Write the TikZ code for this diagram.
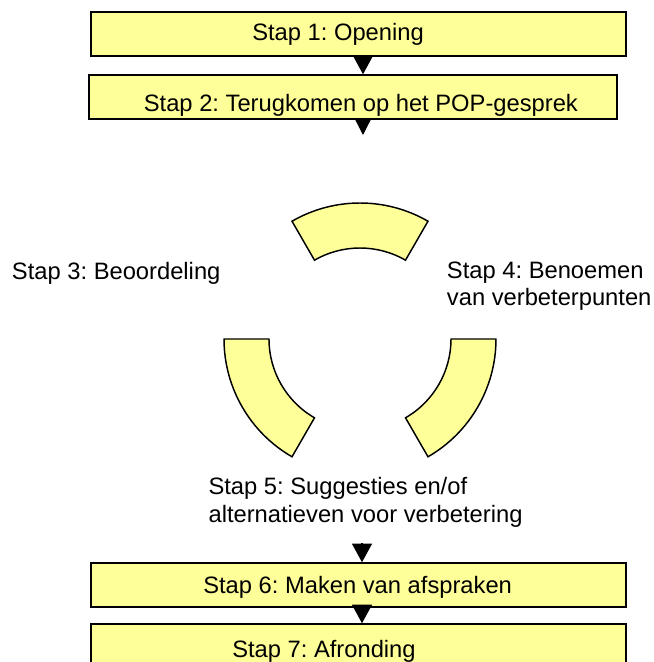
\documentclass[tikz,border=0pt]{standalone}
\usepackage{fontspec}
\setmainfont{Liberation Sans}
\frenchspacing
\usetikzlibrary{arrows.meta,fit}
\definecolor{boxfill}{HTML}{FFFF99}
\begin{document}
\begin{tikzpicture}[x=0.75pt,y=0.75pt,
  stepbox/.style={draw=black, line width=1.1pt, fill=boxfill, inner sep=0pt},
  steptext/.style={inner sep=0pt, anchor=base west, align=left,
    font=\fontsize{17.8}{20.6}\selectfont},
  ringseg/.style={draw=black, line width=1.1pt, fill=boxfill, line join=miter},
  flow/.style={line width=1pt, -{Triangle[width=15pt,length=14pt]}}]
\useasboundingbox (0,0) rectangle (654,662);
\clip (0,0) rectangle (654,662);
\fill[white] (0,0) rectangle (654,662);

% step boxes
\node[stepbox, fit={(91,606) (626,650)}] (b1) {};
\node[stepbox, fit={(89,543) (617,587)}] (b2) {};
\node[stepbox, fit={(91,55) (626,99)}] (b6) {};
\node[stepbox, fit={(91,-8) (626,38)}] (b7) {};

% box captions
\node[steptext] (t1) at (252,621) {Stap 1: Opening};
\node[steptext] (t2) at (143.6,550) {Stap 2: Terugkomen op het POP-gesprek};
\node[steptext] (t6) at (203,69) {Stap 6: Maken van afspraken};
\node[steptext] (t7) at (232,5) {Stap 7: Afronding};

% cycle of three ring segments
\coordinate (ring) at (360,323);
\foreach \a in {60,180,300}{
  \draw[ringseg] ([shift={(\a:102pt)}]ring)
    arc[start angle=\a, end angle=\a+60, radius=102pt]
    -- ([shift={(\a+60:68.25pt)}]ring)
    arc[start angle=\a+60, end angle=\a, radius=68.25pt] -- cycle;
}

% labels around the cycle (base anchor sits on the last line)
\node[steptext] (s3) at (11.7,382) {Stap 3: Beoordeling};
\node[steptext] (s4) at (446.7,356.5) {Stap 4: Benoemen\\van verbeterpunten};
\node[steptext] (s5) at (208.3,139.7) {Stap 5: Suggesties en/of\\alternatieven voor verbetering};

% flow arrows
\coordinate (ax) at (363,0);
\coordinate (bx) at (362,0);
\coordinate (into) at (363,527);
\coordinate (from) at (362,119);
\draw[flow] (b1.south -| ax) -- (b2.north -| ax);
\draw[flow, -{Triangle[width=12pt,length=12pt]}] (b2.south -| ax) -- (into);
\draw[flow] (from) -- (b6.north -| bx);
\draw[flow] (b6.south -| bx) -- (b7.north -| bx);
\end{tikzpicture}
\end{document}
